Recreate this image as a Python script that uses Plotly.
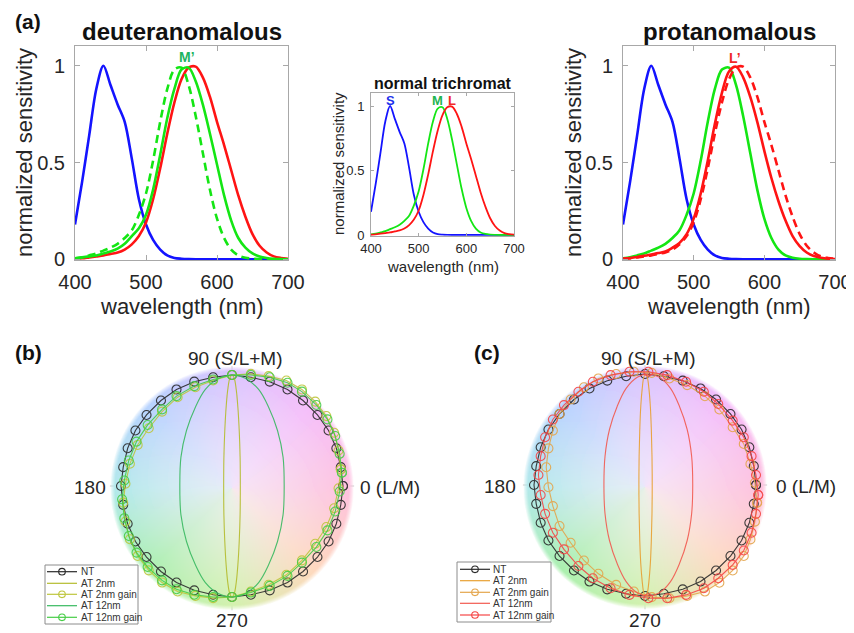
import numpy as np
import plotly.graph_objects as go
import zlib, struct, base64

# ---------------- data ----------------
WL = list(range(400, 701, 10))  # wavelength (nm)

S_CONE = [0.18, 0.40, 0.64, 0.88, 1.00, 0.90, 0.80, 0.71, 0.52, 0.31, 0.18, 0.10, 0.05, 0.02, 0.007, 0.003, 0.001,
          0, 0, 0, 0, 0, 0, 0, 0, 0, 0, 0, 0, 0, 0]
M_CONE = [0.005, 0.01, 0.02, 0.03, 0.045, 0.06, 0.08, 0.11, 0.15, 0.23, 0.34, 0.51, 0.71, 0.88, 0.98, 0.99, 0.90,
          0.74, 0.55, 0.36, 0.21, 0.11, 0.05, 0.02, 0.008, 0.003, 0.001, 0, 0, 0, 0]
L_CONE = [0.002, 0.005, 0.01, 0.015, 0.02, 0.028, 0.035, 0.05, 0.077, 0.12, 0.19, 0.31, 0.47, 0.65, 0.81, 0.93, 0.99,
          0.995, 0.94, 0.84, 0.71, 0.59, 0.46, 0.33, 0.22, 0.13, 0.07, 0.035, 0.015, 0.007, 0.003]
M_PRIME = [0.005, 0.01, 0.015, 0.02, 0.03, 0.04, 0.055, 0.08, 0.12, 0.16, 0.23, 0.36, 0.54, 0.73, 0.88, 0.98, 0.99,
           0.92, 0.80, 0.65, 0.49, 0.33, 0.20, 0.11, 0.06, 0.03, 0.015, 0.007, 0.003, 0.001, 0]
L_PRIME = [0.002, 0.006, 0.012, 0.018, 0.025, 0.032, 0.04, 0.06, 0.085, 0.13, 0.21, 0.34, 0.51, 0.70, 0.86, 0.97, 0.995,
           0.94, 0.84, 0.71, 0.56, 0.42, 0.30, 0.20, 0.12, 0.068, 0.035, 0.017, 0.008, 0.003, 0.001]
WL_TICKS = [400, 500, 600, 700]
SENS_TICKS = [0, 0.5, 1]
SENS_TICKTEXT = ['0', '0.5', '1']

# isoluminant-plane responses, stimulus directions 0..350 deg (step 10)
STIM_DEG = list(range(0, 360, 10))
NT_X = [1.00, 0.98, 0.94, 0.87, 0.77, 0.64, 0.50, 0.34, 0.17, 0.00, -0.17, -0.34, -0.50, -0.64, -0.77, -0.87, -0.94, -0.98,
        -1.00, -0.98, -0.94, -0.87, -0.77, -0.64, -0.50, -0.34, -0.17, 0.00, 0.17, 0.34, 0.50, 0.64, 0.77, 0.87, 0.94, 0.98]
NT_Y = [0.00, 0.17, 0.34, 0.50, 0.64, 0.77, 0.87, 0.94, 0.98, 1.00, 0.98, 0.94, 0.87, 0.77, 0.64, 0.50, 0.34, 0.17,
        0.00, -0.17, -0.34, -0.50, -0.64, -0.77, -0.87, -0.94, -0.98, -1.00, -0.98, -0.94, -0.87, -0.77, -0.64, -0.50, -0.34, -0.17]
# (b) deuteranomalous, gain-compensated
B_AT2G_X = [0.98, 0.96, 0.92, 0.85, 0.75, 0.63, 0.49, 0.33, 0.17, 0.00, -0.17, -0.33, -0.49, -0.63, -0.75, -0.85, -0.92, -0.96,
            -0.98, -0.96, -0.92, -0.85, -0.75, -0.63, -0.49, -0.33, -0.17, 0.00, 0.17, 0.33, 0.49, 0.63, 0.75, 0.85, 0.92, 0.96]
B_AT2G_Y = [0.15, 0.32, 0.48, 0.63, 0.76, 0.87, 0.95, 0.99, 1.01, 1.00, 0.95, 0.89, 0.80, 0.67, 0.52, 0.37, 0.20, 0.02,
            -0.15, -0.32, -0.48, -0.63, -0.76, -0.87, -0.95, -0.99, -1.01, -1.00, -0.95, -0.89, -0.80, -0.67, -0.52, -0.37, -0.20, -0.02]
B_AT12G_X = [0.99, 0.97, 0.93, 0.86, 0.76, 0.63, 0.50, 0.34, 0.17, 0.00, -0.17, -0.34, -0.50, -0.63, -0.76, -0.86, -0.93, -0.97,
             -0.99, -0.97, -0.93, -0.86, -0.76, -0.63, -0.50, -0.34, -0.17, 0.00, 0.17, 0.34, 0.50, 0.63, 0.76, 0.86, 0.93, 0.97]
B_AT12G_Y = [0.12, 0.29, 0.45, 0.60, 0.73, 0.85, 0.93, 0.98, 1.00, 1.00, 0.96, 0.90, 0.81, 0.69, 0.55, 0.40, 0.23, 0.05,
             -0.12, -0.29, -0.45, -0.60, -0.73, -0.85, -0.93, -0.98, -1.00, -1.00, -0.96, -0.90, -0.81, -0.69, -0.55, -0.40, -0.23, -0.05]
# (c) protanomalous, gain-compensated
C_AT2G_X = [1.01, 0.99, 0.95, 0.89, 0.79, 0.67, 0.54, 0.38, 0.22, 0.06, -0.10, -0.26, -0.42, -0.55, -0.67, -0.77, -0.83, -0.87,
            -0.89, -0.87, -0.83, -0.77, -0.67, -0.55, -0.42, -0.26, -0.10, 0.06, 0.22, 0.38, 0.54, 0.67, 0.79, 0.89, 0.95, 0.99]
C_AT2G_Y = [-0.16, 0.02, 0.19, 0.37, 0.52, 0.68, 0.80, 0.90, 0.96, 1.01, 1.02, 1.00, 0.96, 0.88, 0.77, 0.64, 0.49, 0.33,
            0.16, -0.02, -0.19, -0.37, -0.52, -0.68, -0.80, -0.90, -0.96, -1.01, -1.02, -1.00, -0.96, -0.88, -0.77, -0.64, -0.49, -0.33]
C_AT12G_X = [1.02, 1.00, 0.96, 0.89, 0.79, 0.66, 0.53, 0.37, 0.20, 0.03, -0.14, -0.31, -0.47, -0.60, -0.73, -0.83, -0.90, -0.94,
             -0.96, -0.94, -0.90, -0.83, -0.73, -0.60, -0.47, -0.31, -0.14, 0.03, 0.20, 0.37, 0.53, 0.66, 0.79, 0.89, 0.96, 1.00]
C_AT12G_Y = [-0.09, 0.09, 0.26, 0.43, 0.58, 0.73, 0.84, 0.93, 0.99, 1.02, 1.02, 0.99, 0.93, 0.84, 0.72, 0.59, 0.43, 0.26,
             0.09, -0.09, -0.26, -0.43, -0.58, -0.73, -0.84, -0.93, -0.99, -1.02, -1.02, -0.99, -0.93, -0.84, -0.72, -0.59, -0.43, -0.26]
# without gain (narrow ellipses), directions 0..345 deg (step 15)
NARROW_Y = [0, 0.26, 0.50, 0.71, 0.87, 0.97, 1.00, 0.97, 0.87, 0.71, 0.50, 0.26,
            0, -0.26, -0.50, -0.71, -0.87, -0.97, -1.00, -0.97, -0.87, -0.71, -0.50, -0.26]
B_AT2_X = [0.075, 0.073, 0.065, 0.053, 0.038, 0.020, 0, -0.020, -0.038, -0.053, -0.065, -0.073,
           -0.075, -0.073, -0.065, -0.053, -0.038, -0.020, 0, 0.020, 0.038, 0.053, 0.065, 0.073]
B_AT12_X = [0.47, 0.46, 0.41, 0.33, 0.24, 0.12, 0, -0.12, -0.24, -0.33, -0.41, -0.46,
            -0.47, -0.46, -0.41, -0.33, -0.24, -0.12, 0, 0.12, 0.24, 0.33, 0.41, 0.46]
C_AT2_X = [0.065, 0.063, 0.057, 0.048, 0.035, 0.021, 0.005, -0.011, -0.025, -0.038, -0.047, -0.053,
           -0.055, -0.053, -0.047, -0.038, -0.025, -0.011, 0.005, 0.021, 0.035, 0.048, 0.057, 0.063]
C_AT12_X = [0.43, 0.42, 0.38, 0.31, 0.23, 0.13, 0.03, -0.07, -0.17, -0.25, -0.32, -0.36,
            -0.37, -0.36, -0.32, -0.25, -0.17, -0.07, 0.03, 0.13, 0.23, 0.31, 0.38, 0.42]

LEG_LABELS = ['NT', 'AT 2nm', 'AT 2nm gain', 'AT 12nm', 'AT 12nm gain']

# ---------------- helpers ----------------
OFF = 8                      # page body margin of the browser
W, H = 854 - OFF, 633 - OFF  # figure size so that it fits the window
FONT = 'Liberation Sans, Arial, sans-serif'
TXT = '#262626'


def fx(p):
    return (p - OFF) / W


def fy(p):
    return 1 - (p - OFF) / H


def png_uri(rgba):
    h, w, _ = rgba.shape
    raw = b''.join(b'\x00' + rgba[i].tobytes() for i in range(h))

    def chunk(t, d):
        c = struct.pack('>I', len(d)) + t + d
        return c + struct.pack('>I', zlib.crc32(t + d) & 0xffffffff)
    png = (b'\x89PNG\r\n\x1a\n' + chunk(b'IHDR', struct.pack('>IIBBBBB', w, h, 8, 6, 0, 0, 0))
           + chunk(b'IDAT', zlib.compress(raw, 9)) + chunk(b'IEND', b''))
    return 'data:image/png;base64,' + base64.b64encode(png).decode()


def sphere_image(n=330):
    xs = np.linspace(-1, 1, n)
    X, Y = np.meshgrid(xs, xs[::-1])
    r = np.sqrt(X ** 2 + Y ** 2)
    phi = np.degrees(np.arctan2(Y, X)) % 360
    deg = [0, 45, 90, 135, 180, 225, 270, 315, 360]
    hues = [(255, 192, 222), (246, 186, 250), (218, 194, 255), (182, 210, 255), (176, 233, 235),
            (168, 240, 172), (210, 242, 172), (255, 216, 188), (255, 192, 222)]
    rgb = np.stack([np.interp(phi, deg, [h[k] for h in hues]) for k in range(3)], -1)
    base = np.array([246.0, 240.0, 250.0])
    s = np.clip(0.22 + 0.78 * r ** 1.3, 0, 1)[..., None]
    col = base * (1 - s) + rgb * s
    alpha = np.clip((1 - r) / 0.04, 0, 1) ** 0.8 * 255
    out = np.concatenate([col, alpha[..., None]], -1)
    return np.clip(out, 0, 255).astype(np.uint8)


fig = go.Figure()
BLUE, GREEN, RED = '#1414ff', '#14e614', '#ff1414'


def spec(x, y, color, width, xa, ya, dash=None):
    fig.add_trace(go.Scatter(x=x, y=y, mode='lines', xaxis=xa, yaxis=ya, showlegend=False, hoverinfo='skip',
                             line=dict(color=color, width=width, shape='spline', smoothing=0.9, dash=dash)))


# deuteranomalous
spec(WL, S_CONE, BLUE, 2.6, 'x', 'y')
spec(WL, L_CONE, RED, 2.6, 'x', 'y')
spec(WL, M_CONE, GREEN, 2.6, 'x', 'y', dash='8px,5px')
spec(WL, M_PRIME, GREEN, 2.6, 'x', 'y')
# normal trichromat
spec(WL, S_CONE, BLUE, 1.8, 'x2', 'y2')
spec(WL, M_CONE, GREEN, 1.8, 'x2', 'y2')
spec(WL, L_CONE, RED, 1.8, 'x2', 'y2')
# protanomalous
spec(WL, S_CONE, BLUE, 2.6, 'x3', 'y3')
spec(WL, M_CONE, GREEN, 2.6, 'x3', 'y3')
spec(WL, L_CONE, RED, 2.6, 'x3', 'y3', dash='8px,5px')
spec(WL, L_PRIME, RED, 2.6, 'x3', 'y3')


def ring(x, y, color, xa, ya, markers, spline=False):
    xx = list(x) + [x[0]]
    yy = list(y) + [y[0]]
    fig.add_trace(go.Scatter(
        x=xx, y=yy, mode='lines+markers' if markers else 'lines', xaxis=xa, yaxis=ya,
        showlegend=False, hoverinfo='skip', opacity=0.9,
        line=dict(color=color, width=1.1, shape='spline' if spline else 'linear'),
        marker=dict(symbol='circle-open', size=9, color=color, line=dict(width=1.1, color=color))))


NT_C = '#2a2a2a'
B_COLS = ['rgb(180,188,45)', 'rgb(190,198,60)', 'rgb(55,185,95)', 'rgb(70,205,70)']
C_COLS = ['rgb(232,160,50)', 'rgb(228,165,75)', 'rgb(242,90,80)', 'rgb(245,70,70)']

ring(NT_X, NT_Y, NT_C, 'x4', 'y4', True)
ring(B_AT2_X, NARROW_Y, B_COLS[0], 'x4', 'y4', False, True)
ring(B_AT2G_X, B_AT2G_Y, B_COLS[1], 'x4', 'y4', True)
ring(B_AT12_X, NARROW_Y, B_COLS[2], 'x4', 'y4', False, True)
ring(B_AT12G_X, B_AT12G_Y, B_COLS[3], 'x4', 'y4', True)

ring(NT_X, NT_Y, NT_C, 'x5', 'y5', True)
ring(C_AT2_X, NARROW_Y, C_COLS[0], 'x5', 'y5', False, True)
ring(C_AT2G_X, C_AT2G_Y, C_COLS[1], 'x5', 'y5', True)
ring(C_AT12_X, NARROW_Y, C_COLS[2], 'x5', 'y5', False, True)
ring(C_AT12G_X, C_AT12G_Y, C_COLS[3], 'x5', 'y5', True)

# ---------------- axes ----------------
layout = {}


def spec_axes(n, xpx, ypx, fs, tl, xso, yso):
    sfx = '' if n == 1 else str(n)
    common = dict(showline=True, mirror='ticks', linecolor='#a8a8a8', linewidth=1, ticks='inside', ticklen=tl,
                  tickcolor='#a8a8a8', showgrid=False, zeroline=False, automargin=False,
                  tickfont=dict(size=fs, color=TXT, family=FONT))
    layout['xaxis' + sfx] = dict(domain=[fx(xpx[0]), fx(xpx[1])], range=[400, 700], tickvals=WL_TICKS,
                                 anchor='y' + sfx, ticklabelstandoff=xso, **common)
    layout['yaxis' + sfx] = dict(domain=[fy(ypx[1]), fy(ypx[0])], range=[-0.006, 1.102], tickvals=SENS_TICKS,
                                 ticktext=SENS_TICKTEXT, anchor='x' + sfx, ticklabelstandoff=yso, **common)


spec_axes(1, (75, 288), (45.95, 260.46), 20, 5, 4, 5)
spec_axes(2, (371, 514), (92.84, 235.77), 13, 3, 1, 3)
spec_axes(3, (623, 835), (45.95, 260.46), 20, 5, 4, 5)

CR = 1.25
hid = dict(visible=False, automargin=False, showgrid=False, zeroline=False)
layout['xaxis4'] = dict(domain=[fx(93.25), fx(370.75)], range=[-CR, CR], anchor='y4', **hid)
layout['yaxis4'] = dict(domain=[fy(624.75), fy(347.25)], range=[-CR, CR], anchor='x4', **hid)
layout['xaxis5'] = dict(domain=[fx(506.25), fx(783.75)], range=[-CR, CR], anchor='y5', **hid)
layout['yaxis5'] = dict(domain=[fy(623.75), fy(346.25)], range=[-CR, CR], anchor='x5', **hid)

# ---------------- sphere backgrounds & crosshairs ----------------
uri = png_uri(sphere_image())
images = []
shapes = []
for xa, ya in (('x4', 'y4'), ('x5', 'y5')):
    images.append(dict(source=uri, xref=xa, yref=ya, x=-1.1, y=1.08, sizex=2.2, sizey=2.2,
                       sizing='stretch', xanchor='left', yanchor='top', layer='below'))
    shapes.append(dict(type='line', xref=xa, yref=ya, x0=-1.1, x1=1.1, y0=0, y1=0, layer='below',
                       line=dict(color='rgba(110,110,110,0.35)', width=1)))
    shapes.append(dict(type='line', xref=xa, yref=ya, x0=0, x1=0, y0=-1.12, y1=1.08, layer='below',
                       line=dict(color='rgba(110,110,110,0.35)', width=1)))

# ---------------- annotations ----------------
ann = []


def text(t, x, y, size, color=TXT, angle=0, xanchor='center', bold=False):
    ann.append(dict(text=('<b>%s</b>' % t) if bold else t, x=fx(x), y=fy(y), xref='paper', yref='paper',
                    showarrow=False, xanchor=xanchor, yanchor='middle', textangle=angle,
                    font=dict(size=size, color=color, family=FONT)))


text('(a)', 28, 22, 21, '#111', bold=True)
text('deuteranomalous', 182, 32, 24, '#111', bold=True)
text('protanomalous', 729, 32, 24, '#111', bold=True)
text('normal trichromat', 443, 83, 16, '#111', bold=True)
text('normalized sensitivity', 24, 153, 22, TXT, angle=-90)
text('normalized sensitivity', 573, 153, 22, TXT, angle=-90)
text('normalized sensitivity', 338, 164, 15, TXT, angle=-90)
text('wavelength (nm)', 182, 307, 22)
text('wavelength (nm)', 729, 307, 22)
text('wavelength (nm)', 443, 266, 15)
text('M’', 187, 57, 14, 'rgb(30,180,95)', bold=True)
text('L’', 735, 58, 14, 'rgb(240,40,40)', bold=True)
text('S', 390, 100, 13, 'rgb(30,50,235)', bold=True)
text('M', 437, 100, 13, 'rgb(35,180,80)', bold=True)
text('L', 452, 100, 13, 'rgb(240,40,40)', bold=True)

text('(b)', 28, 352, 21, '#111', bold=True)
text('(c)', 487, 352, 21, '#111', bold=True)
for cx, cy, lx, rx in ((232, 486, 90, 390), (645, 485, 500, 806)):
    text('90 (S/L+M)', cx + 3, 358, 19)
    text('180', lx, cy + 1, 19)
    text('0 (L/M)', rx, cy + 1, 19)
    text('270', cx, 620, 19)


def legend(box, rows, lx, tx, cols):
    shapes.append(dict(type='rect', xref='paper', yref='paper', x0=fx(box[0]), x1=fx(box[1]),
                       y0=fy(box[3]), y1=fy(box[2]), line=dict(color='#8c8c8c', width=1),
                       fillcolor='white', layer='above'))
    entries = [(LEG_LABELS[0], NT_C, True), (LEG_LABELS[1], cols[0], False), (LEG_LABELS[2], cols[1], True),
               (LEG_LABELS[3], cols[2], False), (LEG_LABELS[4], cols[3], True)]
    for (lab, col, mk), ry in zip(entries, rows):
        shapes.append(dict(type='line', xref='paper', yref='paper', x0=fx(lx[0]), x1=fx(lx[1]),
                           y0=fy(ry), y1=fy(ry), line=dict(color=col, width=1.2), layer='above'))
        if mk:
            cx = (lx[0] + lx[1]) / 2
            shapes.append(dict(type='circle', xref='paper', yref='paper', x0=fx(cx - 3.3), x1=fx(cx + 3.3),
                               y0=fy(ry + 3.3), y1=fy(ry - 3.3), line=dict(color=col, width=1.1),
                               fillcolor='rgba(255,255,255,0)', layer='above'))
        text(lab, tx, ry, 10, '#333', xanchor='left')


legend((45, 138, 565, 624), (571.7, 583.3, 594.3, 605.7, 617.3), (47, 77), 78.5, B_COLS)
legend((457, 551, 562, 622), (569.3, 580.7, 592.3, 603.3, 615.0), (460, 490), 491, C_COLS)

fig.update_layout(width=W, height=H, margin=dict(l=0, r=0, t=0, b=0, autoexpand=False), paper_bgcolor='white',
                  plot_bgcolor='rgba(0,0,0,0)', showlegend=False, annotations=ann, shapes=shapes,
                  images=images, font=dict(family=FONT), **layout)
fig.write_html('out.html')
